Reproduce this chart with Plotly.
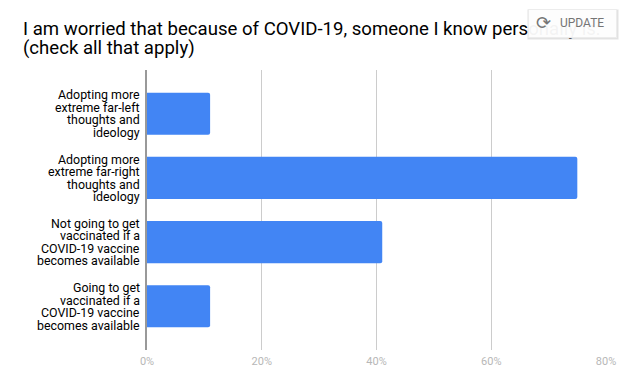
import plotly.graph_objects as go

categories = [
    ["Adopting more", "extreme far-left", "thoughts and", "ideology"],
    ["Adopting more", "extreme far-right", "thoughts and", "ideology"],
    ["Not going to get", "vaccinated if a", "COVID-19 vaccine", "becomes available"],
    ["Going to get", "vaccinated if a", "COVID-19 vaccine", "becomes available"],
]
values = [11, 75, 41, 11]
tick_vals = [0, 20, 40, 60, 80]
tick_text = ["0%", "20%", "40%", "60%", "80%"]
title_lines = [
    "I am worried that because of COVID-19, someone I know personally is:",
    "(check all that apply)",
]
names = [" ".join(c) for c in categories]

W, H = 628, 391
L, R, T, B = 147, 20, 70, 41
PW, PH = W - L - R, H - T - B


def px(v):
    return (v - L) / PW


def py(v):
    return 1 - (v - T) / PH


fig = go.Figure(
    go.Bar(
        y=names,
        x=values,
        orientation="h",
        marker=dict(color="#4285f4", line_width=0, cornerradius=2),
        width=0.655,
    )
)

annotations = []
for name, lines in zip(names, categories):
    n = len(lines)
    for i, line in enumerate(lines):
        annotations.append(dict(
            text=line, xref="paper", yref="y", x=0, y=name,
            xanchor="right", yanchor="middle", xshift=-5,
            yshift=((n - 1) / 2 - i) * 12.45, showarrow=False,
            font=dict(family="Roboto", size=12.4, color="#000000"),
        ))

for line, yp in zip(title_lines, [29, 47.5]):
    annotations.append(dict(
        text=line, xref="paper", yref="paper", x=px(20), y=py(yp),
        xanchor="left", yanchor="middle", showarrow=False,
        font=dict(family="Roboto", size=18.6, color="#000000"),
    ))

# UPDATE button overlay (soft shadow, translucent panel, label, icon)
annotations.append(dict(
    text=" ", xref="paper", yref="paper", x=px(575), y=py(24.5),
    xanchor="center", yanchor="middle", showarrow=False,
    width=88, height=27, bgcolor="rgba(190,190,190,0.45)",
))
annotations.append(dict(
    text=" ", xref="paper", yref="paper", x=px(574.5), y=py(23.5),
    xanchor="center", yanchor="middle", showarrow=False,
    width=87, height=27, bgcolor="rgba(255,255,255,0.93)",
    bordercolor="#ececec", borderwidth=1, borderpad=0,
))
annotations.append(dict(
    text="UPDATE", xref="paper", yref="paper", x=px(584), y=py(23.5),
    xanchor="center", yanchor="middle", showarrow=False,
    font=dict(family="Roboto", size=12, color="#757575"),
))
annotations.append(dict(
    text="⟳", xref="paper", yref="paper", x=px(545), y=py(23),
    xanchor="center", yanchor="middle", showarrow=False,
    font=dict(family="DejaVu Sans", size=18, color="#757575"),
))

fig.update_layout(
    width=W, height=H,
    margin=dict(l=L, r=R, t=T, b=B, pad=0),
    paper_bgcolor="white", plot_bgcolor="white",
    showlegend=False,
    annotations=annotations,
    xaxis=dict(
        range=[0, 80], tickvals=tick_vals, ticktext=tick_text,
        showgrid=True, gridcolor="#cccccc", gridwidth=1, zeroline=False,
        showline=False, ticks="", ticklabelstandoff=3,
        tickfont=dict(family="Roboto", size=11, color="#b7b7b7"),
    ),
    yaxis=dict(
        categoryorder="array", categoryarray=names[::-1],
        range=[-0.68, 3.68],
        showticklabels=False, showgrid=False, zeroline=False,
        showline=True, linecolor="#999999", linewidth=2, ticks="",
    ),
)

fig.write_html(
    "out.html",
    config={"displayModeBar": False},
    post_script="document.body.style.margin='0';",
)
